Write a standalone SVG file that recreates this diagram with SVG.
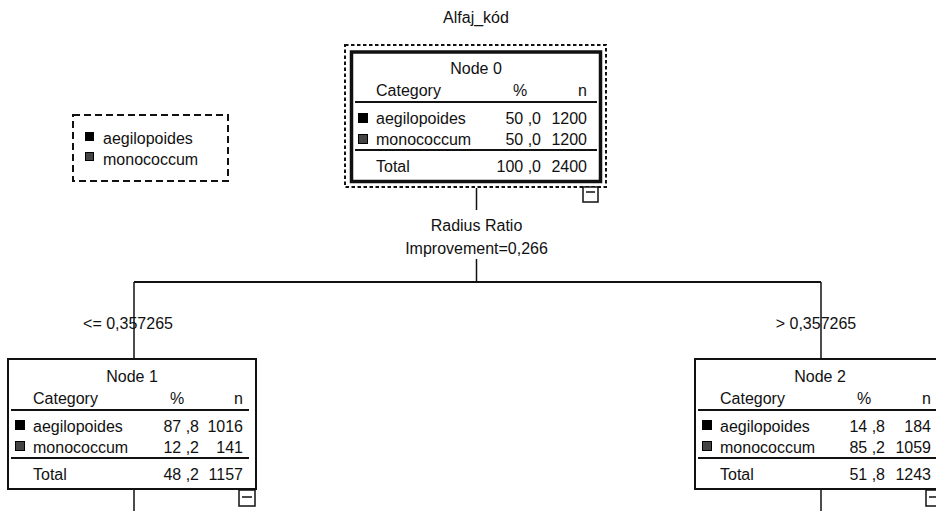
<svg xmlns="http://www.w3.org/2000/svg" width="936" height="511" viewBox="0 0 936 511">
<style>
text{font-family:"Liberation Sans",Arial,sans-serif;font-size:16px;fill:#111}
.m{text-anchor:middle}
.e{text-anchor:end}
.box{fill:#fff;stroke:#111;stroke-width:2}
.thick{fill:#fff;stroke:#111;stroke-width:3.5}
.sel{fill:none;stroke:#111;stroke-width:2;stroke-dasharray:3.5 2.5}
.leg{fill:none;stroke:#111;stroke-width:2;stroke-dasharray:7 4}
.rule{stroke:#111;stroke-width:2}
.conn{stroke:#111;stroke-width:1.5;fill:none}
.sq1{fill:#000}
.sq2{fill:#444;stroke:#000;stroke-width:1}
.tog{fill:#fff;stroke:#111;stroke-width:1.5}
</style>
<rect width="936" height="511" fill="#fff"/>
<text class="m" x="476" y="23">Alfaj_kód</text>

<g id="legend">
<rect class="leg" x="73" y="115" width="155" height="66"/>
<rect class="sq1" x="85" y="132" width="9" height="9"/>
<rect class="sq2" x="85.5" y="152.5" width="8" height="8"/>
<text x="103" y="144">aegilopoides</text>
<text x="103" y="165">monococcum</text>
</g>

<g id="connectors">
<line class="conn" x1="476.5" y1="188" x2="476.5" y2="210"/>
<text class="m" x="476.5" y="231">Radius Ratio</text>
<text class="m" x="476.5" y="254">Improvement=0,266</text>
<line class="conn" x1="476.5" y1="259" x2="476.5" y2="282"/>
<line class="conn" x1="134" y1="282" x2="821" y2="282" style="stroke-width:2"/>
<line class="conn" x1="134" y1="282" x2="134" y2="359"/>
<line class="conn" x1="821" y1="282" x2="821" y2="359"/>
<text class="m" x="128" y="329">&lt;= 0,357265</text>
<text class="m" x="816" y="329">&gt; 0,357265</text>
<line class="conn" x1="134" y1="489" x2="134" y2="511"/>
<line class="conn" x1="821" y1="489" x2="821" y2="511"/>
</g>

<g id="node0">
<rect class="sel" x="345" y="45" width="261" height="142"/>
<rect class="thick" x="351.5" y="52" width="249" height="129.5"/>
<text class="m" x="476" y="74">Node 0</text>
<text x="376" y="96">Category</text>
<text class="m" x="520" y="96">%</text>
<text class="e" x="587" y="96">n</text>
<line class="rule" x1="355" y1="102" x2="597" y2="102"/>
<rect class="sq1" x="358" y="113" width="10" height="10"/>
<text x="376" y="124">aegilopoides</text>
<text class="e" x="541" y="124">50 ,0</text>
<text class="e" x="587" y="124">1200</text>
<rect class="sq2" x="358.5" y="134.5" width="9" height="9"/>
<text x="376" y="145">monococcum</text>
<text class="e" x="541" y="145">50 ,0</text>
<text class="e" x="587" y="145">1200</text>
<line class="rule" x1="355" y1="150" x2="597" y2="150"/>
<text x="376" y="172">Total</text>
<text class="e" x="541" y="172">100 ,0</text>
<text class="e" x="587" y="172">2400</text>
<rect class="tog" x="583" y="187" width="15" height="15"/>
<line class="rule" x1="586" y1="192" x2="595" y2="192" style="stroke-width:1.5"/>
</g>

<g id="node1">
<rect class="box" x="8" y="359" width="248" height="130"/>
<text class="m" x="132" y="382">Node 1</text>
<text x="33" y="404">Category</text>
<text class="m" x="177" y="404">%</text>
<text class="e" x="243" y="404">n</text>
<line class="rule" x1="11" y1="410" x2="249" y2="410"/>
<rect class="sq1" x="15" y="420" width="10" height="10"/>
<text x="33" y="432">aegilopoides</text>
<text class="e" x="199" y="432">87 ,8</text>
<text class="e" x="243" y="432">1016</text>
<rect class="sq2" x="15.5" y="441.5" width="9" height="9"/>
<text x="33" y="453">monococcum</text>
<text class="e" x="199" y="453">12 ,2</text>
<text class="e" x="243" y="453">141</text>
<line class="rule" x1="11" y1="458" x2="249" y2="458"/>
<text x="33" y="480">Total</text>
<text class="e" x="199" y="480">48 ,2</text>
<text class="e" x="243" y="480">1157</text>
<rect class="tog" x="239" y="490" width="16" height="16"/>
<line class="rule" x1="242" y1="497" x2="252" y2="497" style="stroke-width:1.5"/>
</g>

<g id="node2">
<rect class="box" x="695" y="359" width="249" height="130"/>
<text class="m" x="820" y="382">Node 2</text>
<text x="720" y="404">Category</text>
<text class="m" x="864" y="404">%</text>
<text class="e" x="931" y="404">n</text>
<line class="rule" x1="698" y1="410" x2="936" y2="410"/>
<rect class="sq1" x="702" y="420" width="10" height="10"/>
<text x="720" y="432">aegilopoides</text>
<text class="e" x="885" y="432">14 ,8</text>
<text class="e" x="931" y="432">184</text>
<rect class="sq2" x="702.5" y="441.5" width="9" height="9"/>
<text x="720" y="453">monococcum</text>
<text class="e" x="885" y="453">85 ,2</text>
<text class="e" x="931" y="453">1059</text>
<line class="rule" x1="698" y1="458" x2="936" y2="458"/>
<text x="720" y="480">Total</text>
<text class="e" x="885" y="480">51 ,8</text>
<text class="e" x="931" y="480">1243</text>
<rect class="tog" x="926" y="490" width="16" height="16"/>
<line class="rule" x1="929" y1="497" x2="939" y2="497" style="stroke-width:1.5"/>
</g>
</svg>
